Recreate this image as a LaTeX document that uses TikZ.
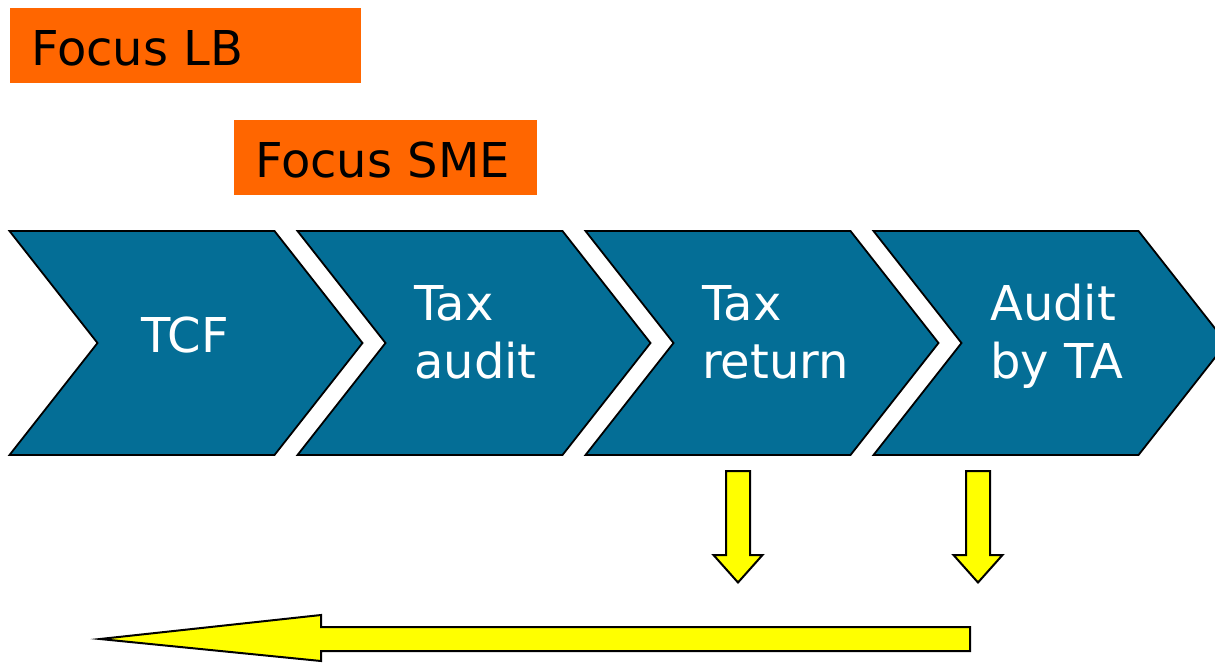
\documentclass[tikz,border=0pt]{standalone}
\usepackage{fontspec}
\setmainfont{DejaVu Sans}
\definecolor{chev}{RGB}{4,110,150}
\definecolor{orng}{RGB}{255,102,0}
\definecolor{yel}{RGB}{255,255,0}
\tikzset{
  chevbox/.style={fill=chev,draw=black,line width=1.8pt,line join=miter},
  focusbox/.style={fill=orng,draw=none},
  yarrow/.style={fill=yel,draw=black,line width=2pt,line join=miter},
  bigtxt/.style={font=\fontsize{48}{58}\selectfont,inner sep=0pt,align=left},
}
\begin{document}
\begin{tikzpicture}[x=1pt,y=-1pt]
\useasboundingbox (0,0) rectangle (1215,662);
% focus boxes
\fill[focusbox] (10,8) rectangle (361,83);
\node[bigtxt,anchor=base west,text=black] (flb) at (31,65) {Focus LB};
\fill[focusbox] (234,120) rectangle (537,195);
\node[bigtxt,anchor=base west,text=black] (fsme) at (255,177) {Focus SME};
% chevrons
\foreach \x/\n in {9.5/c1,297.5/c2,585.5/c3,873.5/c4}{
  \draw[chevbox] (\x,231) -- ++(265,0) -- ++(88,112) -- ++(-88,112) -- ++(-265,0) -- ++(88,-112) -- cycle;
}
\node[bigtxt,anchor=base west,text=white] (t1) at (141,352) {TCF};
\node[bigtxt,anchor=base west,text=white] (t2) at (414,378) {Tax\\audit};
\node[bigtxt,anchor=base west,text=white] (t3) at (702,378) {Tax\\return};
\node[bigtxt,anchor=base west,text=white] (t4) at (990,378) {Audit\\by TA};
% down arrows
\draw[yarrow] (726,471) -- (750,471) -- (750,555) -- (762.5,555) -- (738,582.5) -- (713.5,555) -- (726,555) -- cycle;
\draw[yarrow] (966,471) -- (990,471) -- (990,555) -- (1002.5,555) -- (978,582.5) -- (953.5,555) -- (966,555) -- cycle;
% left arrow
\draw[yarrow] (970,627) -- (970,651) -- (321,651) -- (321,661) -- (100,639) -- (321,615) -- (321,627) -- cycle;
\end{tikzpicture}
\end{document}
